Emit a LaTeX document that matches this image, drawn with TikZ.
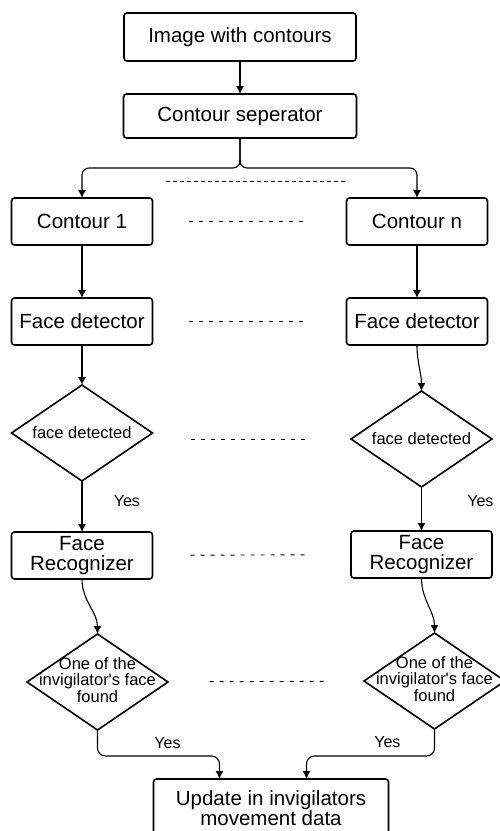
\documentclass[tikz,border=0pt]{standalone}
\usepackage{fontspec}
\setmainfont{Liberation Sans}
\usetikzlibrary{shapes, arrows.meta, positioning}
\newcommand{\bigtxt}{\fontsize{20.5}{19.5}\selectfont}
\newcommand{\smalltxt}{\fontsize{16.5}{15}\selectfont}
\newcommand{\dtxt}[1]{\makebox[0pt]{\begin{tabular}{@{}c@{}}#1\end{tabular}}}

\begin{document}
\begin{tikzpicture}[x=1pt, y=1pt,
                    box/.style={draw, line width=1.6pt, rounded corners=3pt, minimum width=141pt, minimum height=47pt, inner sep=2pt, outer sep=0pt, align=center, font=\bigtxt},
                    decision/.style={draw, diamond, line width=1.6pt, aspect=1.47, minimum width=141pt, minimum height=96pt, inner sep=0pt, outer sep=0pt, font=\smalltxt},
                    arrow/.style={-{Latex[length=8pt, width=8pt]}, line width=1.1pt},
                    dots/.style={dash pattern=on 4pt off 6pt, line width=0.9pt},
                    yes/.style={font=\fontsize{16}{18}\selectfont}
                ]
                \useasboundingbox (0,0) rectangle (500,-831);

                % --- Input ---
                \node[box, minimum width=232pt, minimum height=48pt] (img) at (240,-37) {Image with contours};
                \node[box, minimum width=233pt, minimum height=44pt, below=33pt of img] (sep) {Contour seperator};
                \coordinate[below=30pt of sep.south] (split);

                \draw[arrow] (img) -- (sep);

                % --- Contours ---
                \node[box, below=60pt of sep, xshift=-158pt] (c1) {Contour 1};
                \node[box, right=194pt of c1] (cn) {Contour n};

                \draw[arrow, rounded corners=7pt] (sep.south) -- (split) -| (c1.north);
                \draw[arrow, rounded corners=7pt] (sep.south) -- (split) -| (cn.north);
                \draw[dots, dash pattern=on 4pt off 3pt, shorten <=84pt, shorten >=70pt] ([yshift=17pt]c1.north) -- ([yshift=17pt]cn.north);
                \draw[dots, shorten <=36pt, shorten >=40pt] (c1) -- (cn);

                % --- Detection ---
                \node[box, below=53pt of c1] (fd1) {Face detector};
                \node[box, below=53pt of cn] (fdn) {Face detector};
                \node[decision, below=40pt of fd1] (d1) {face detected};
                \node[decision, below=46pt of fdn, xshift=4.5pt] (dn) {face detected};

                \draw[arrow] (c1) -- (fd1);
                \draw[arrow] (cn) -- (fdn);
                \draw[arrow] (fd1) -- (d1);
                \draw[arrow] (fdn.south) to[out=-90, in=90] (dn.north);
                \draw[dots, shorten <=36pt, shorten >=40pt] (fd1) -- (fdn);
                \draw[dots, shorten <=38pt, shorten >=43pt] (d1.east |- dn.west) -- (dn.west);

                % --- Recognition ---
                \node[box, below=51pt of d1] (rec1) {Face\\Recognizer};
                \node[box, below=44pt of dn] (recn) {Face\\Recognizer};
                \node[decision, below=55pt of rec1, xshift=15.5pt] (d21) {\dtxt{One of the\\invigilator\textquotesingle s face\\found}};
                \node[decision, below=55pt of recn, xshift=13pt] (d2n) {\dtxt{One of the\\invigilator\textquotesingle s face\\found}};

                \draw[arrow] (d1) -- node[yes, pos=0.4, right=28pt] {Yes} (rec1);
                \draw[arrow] (dn) -- node[yes, pos=0.33, right=42pt] {Yes} (recn);
                \draw[arrow] (rec1.south) to[out=-90, in=90] (d21.north);
                \draw[arrow] (recn.south) to[out=-90, in=90] (d2n.north);
                \draw[dots, shorten <=38pt, shorten >=43pt] (rec1) -- (recn);
                \draw[dots, shorten <=42pt, shorten >=35pt] (d21) -- (d2n);

                % --- Output ---
                \node[box, minimum width=235pt, minimum height=58pt, below=49pt of d21, xshift=173.5pt] (upd) {Update in invigilators\\movement data};

                \draw[arrow, rounded corners=8pt] (d21.south) |- node[yes, pos=0.787, above=3pt] {Yes} ([xshift=-51.5pt, yshift=23pt]upd.north) -- ([xshift=-51.5pt]upd.north);
                \draw[arrow, rounded corners=8pt] (d2n.south) |- node[yes, pos=0.684, above=4pt] {Yes} ([xshift=35.5pt, yshift=23pt]upd.north) -- ([xshift=35.5pt]upd.north);

\end{tikzpicture}
\end{document}
